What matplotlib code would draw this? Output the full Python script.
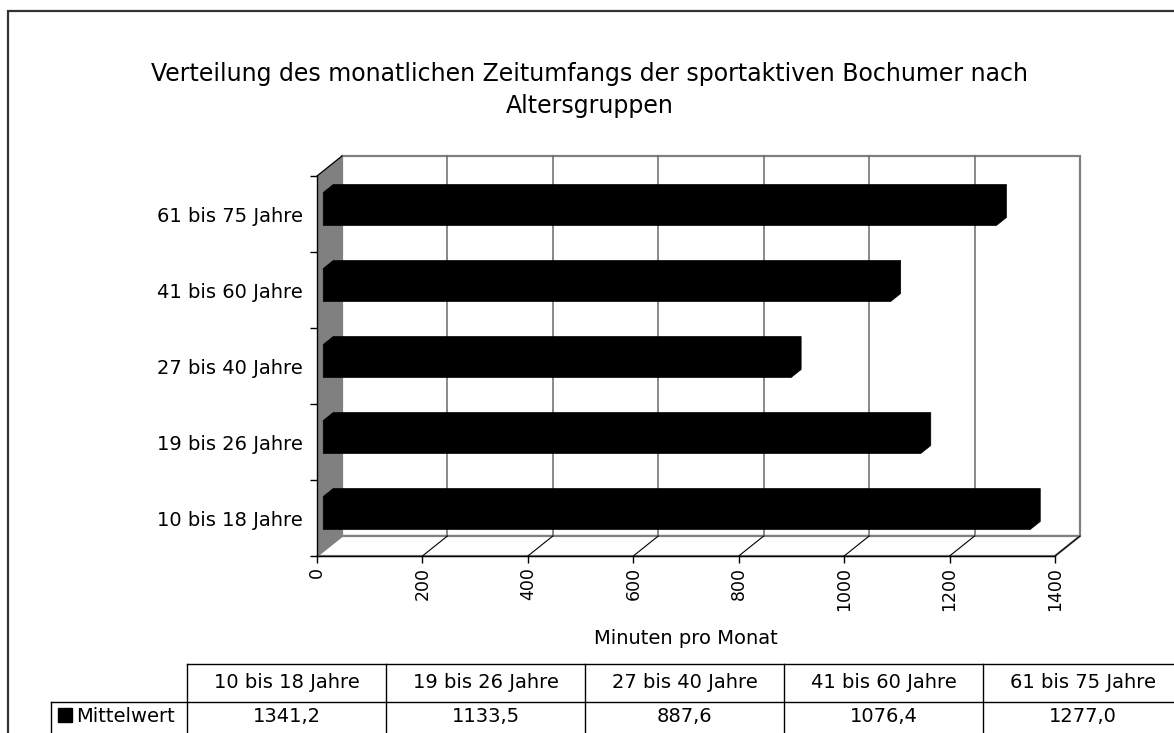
import numpy as np
import matplotlib.pyplot as plt
from matplotlib.patches import Polygon, Rectangle
from matplotlib.lines import Line2D

plt.rcParams['font.family'] = ['DejaVu Sans']

# data
categories = ['10 bis 18 Jahre', '19 bis 26 Jahre', '27 bis 40 Jahre',
              '41 bis 60 Jahre', '61 bis 75 Jahre']
mittelwert = [1341.2, 1133.5, 887.6, 1076.4, 1277.0]
x_ticks = [0, 200, 400, 600, 800, 1000, 1200, 1400]
series_name = 'Mittelwert'
title = 'Verteilung des monatlichen Zeitumfangs der sportaktiven Bochumer nach\nAltersgruppen'
x_label = 'Minuten pro Monat'

W, H = 1174, 733
fig = plt.figure(figsize=(W / 100, H / 100), dpi=100)


def fx(x):
    return x / W


def fy(y):
    return 1 - y / H


# front plane of the 3d box
ax_l, ax_r, ax_t, ax_b = 317, 1055, 176, 556
ax = fig.add_axes([fx(ax_l), fy(ax_b), fx(ax_r) - fx(ax_l), fy(ax_t) - fy(ax_b)])
ax.patch.set_visible(False)
xmax = x_ticks[-1]
n = len(categories)
ax.set_xlim(0, xmax)
ax.set_ylim(0, n)

# depth offset (pixels -> data units)
dx = 25 * xmax / (ax_r - ax_l)
dy = 20 * n / (ax_b - ax_t)
wall = '#808080'

# back wall + gridlines
ax.add_patch(Rectangle((dx, dy), xmax, n, fc='white', ec=wall, lw=1.6,
                       zorder=1, clip_on=False))
for t in x_ticks[1:-1]:
    ax.plot([t + dx, t + dx], [dy, n + dy], color='#6a6a6a', lw=1.1,
            zorder=1.5, clip_on=False)

# floor
ax.add_patch(Polygon([(0, 0), (xmax, 0), (xmax + dx, dy), (dx, dy)],
                     closed=True, fc='white', ec=wall, lw=1.6, zorder=1.2,
                     clip_on=False))
for t in x_ticks[1:]:
    ax.plot([t, t + dx], [0, dy], color='black', lw=0.8, zorder=1.6,
            clip_on=False)

# left wall
ax.add_patch(Polygon([(0, 0), (dx, dy), (dx, n + dy), (0, n)], closed=True,
                     fc=wall, ec='none', zorder=2, clip_on=False))
ax.plot([0, dx], [n, n + dy], color='black', lw=0.9, zorder=2.1, clip_on=False)

# 3d bars
h = 33 / 76
d1, d2 = 0.25, 0.65
for i, v in enumerate(mittelwert):
    y0 = i + 0.5 - h / 2
    y1 = i + 0.5 + h / 2
    pts = [(d1 * dx, y0 + d1 * dy), (v + d1 * dx, y0 + d1 * dy),
           (v + d2 * dx, y0 + d2 * dy), (v + d2 * dx, y1 + d2 * dy),
           (d2 * dx, y1 + d2 * dy), (d1 * dx, y1 + d1 * dy)]
    ax.add_patch(Polygon(pts, closed=True, fc='black', ec='black', lw=0.5,
                         zorder=3, clip_on=False))

# axes
for s in ['top', 'right']:
    ax.spines[s].set_visible(False)
for s in ['left', 'bottom']:
    ax.spines[s].set_color('black')
    ax.spines[s].set_linewidth(1.0)
    ax.spines[s].set_zorder(4)

ax.set_xticks(x_ticks)
ax.set_xticklabels([str(t) for t in x_ticks], rotation=90, va='top')
ax.tick_params(axis='x', direction='out', length=5, width=1, labelsize=12.5,
               pad=3, colors='black')
ax.set_yticks(range(n + 1))
ax.set_yticklabels([])
ax.set_yticks([i + 0.5 for i in range(n)], minor=True)
ax.set_yticklabels(categories, minor=True)
ax.tick_params(axis='y', which='major', direction='out', length=5, width=1)
ax.tick_params(axis='y', which='minor', length=0, labelsize=14, pad=10)

fig.text(fx(590), fy(90), title, ha='center', va='center', fontsize=17,
         linespacing=1.4)
fig.text(fx(686), fy(638), x_label, ha='center', va='center', fontsize=14)

# data table
col_x0, col_w = 187, 199
row_top, row_mid, row_bot = 664, 702, 760
right_end = 1200
fig.add_artist(Line2D([fx(col_x0), fx(right_end)], [fy(row_top)] * 2,
                      color='black', lw=1))
fig.add_artist(Line2D([fx(51), fx(right_end)], [fy(row_mid)] * 2,
                      color='black', lw=1))
fig.add_artist(Line2D([fx(51)] * 2, [fy(row_mid), fy(row_bot)],
                      color='black', lw=1))
for j in range(n + 1):
    xx = col_x0 + j * col_w
    fig.add_artist(Line2D([fx(xx)] * 2, [fy(row_top), fy(row_bot)],
                          color='black', lw=1))
for j, (cat, v) in enumerate(zip(categories, mittelwert)):
    cx = col_x0 + j * col_w + col_w / 2
    fig.text(fx(cx), fy(683), cat, ha='center', va='center', fontsize=14)
    fig.text(fx(cx), fy(716), f'{v:.1f}'.replace('.', ','), ha='center',
             va='center', fontsize=14)
fig.add_artist(Line2D([fx(65)], [fy(715)], marker='s', markersize=10,
                      color='black', lw=0))
fig.text(fx(76), fy(716), series_name, ha='left', va='center', fontsize=14)

# outer chart frame
fig.add_artist(Rectangle((fx(8), fy(760)), fx(1200) - fx(8), fy(11) - fy(760),
                         fill=False, ec='#333333', lw=1.6))

fig.savefig('out.png', dpi=100)
